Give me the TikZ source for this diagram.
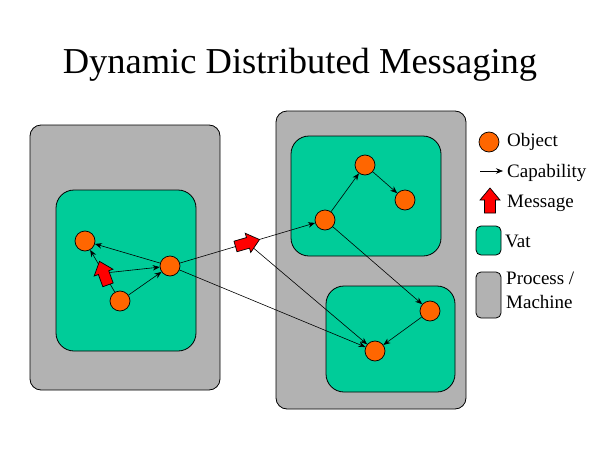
\documentclass[tikz,border=0pt]{standalone}
\usepackage{fontspec}
\setmainfont{Liberation Serif}
\usetikzlibrary{arrows.meta}
\definecolor{procgray}{RGB}{178,178,178}
\definecolor{vatgreen}{RGB}{0,204,153}
\definecolor{objorange}{RGB}{255,102,0}
\begin{document}
\begin{tikzpicture}[x=1pt,y=-1pt,
 proc/.style={draw=black, fill=procgray, line width=0.8pt, rounded corners=11pt, inner sep=0pt},
 vat/.style={draw=black, fill=vatgreen, line width=0.8pt, rounded corners=18pt, inner sep=0pt},
 legbox/.style={draw=black, line width=0.8pt, rounded corners=5pt, inner sep=0pt, minimum width=25pt},
 obj/.style={circle, draw=black, fill=objorange, line width=0.7pt, minimum size=20pt, inner sep=0pt},
 capline/.style={-{Stealth[length=7pt,width=5.5pt]}, line width=0.6pt},
 msg/.style={draw=black, fill=red, line width=0.7pt},
 lbl/.style={font=\fontsize{19}{22}\selectfont, anchor=base west, inner sep=0pt},
 msgarrow/.pic={\draw[msg] (-12.5,-5.5) -- (0.5,-5.5) -- (0.5,-10) -- (12.5,0) -- (0.5,10) -- (0.5,5.5) -- (-12.5,5.5) -- cycle;}
]
\useasboundingbox (0,0) rectangle (600,450);
\fill[white] (0,0) rectangle (600,450);

\node[anchor=base, font=\fontsize{36.5}{40}\selectfont, inner sep=0pt] (title) at (300,73) {Dynamic Distributed Messaging};

% processes
\node[proc, minimum width=190pt, minimum height=265pt] (p1) at (125,257.5) {};
\node[proc, minimum width=190pt, minimum height=298pt] (p2) at (371,260) {};
% vats
\node[vat, minimum width=140pt, minimum height=161pt] (v1) at (126,270.5) {};
\node[vat, minimum width=150pt, minimum height=120pt] (v2) at (366,196) {};
\node[vat, minimum width=129pt, minimum height=106pt] (v3) at (390.5,339) {};

% objects
\node[obj] (a1) at (85,241) {};
\node[obj] (a2) at (170,266) {};
\node[obj] (a3) at (120,301) {};
\node[obj] (b1) at (325,220) {};
\node[obj] (b2) at (365,165) {};
\node[obj] (b3) at (405,200) {};
\node[obj] (c1) at (430,311) {};
\node[obj] (c2) at (375,351) {};

% message positions
\path (a3) -- (a1) coordinate[pos=0.45] (m1);
\path (a2) -- (b1) coordinate[pos=0.5] (m2);

% capabilities
\draw[capline] (a2) -- (a1);
\draw[capline] (a3) -- (a2);
\draw[capline] (a3) -- (a1);
\draw[capline] (m1) -- (a2);
\draw[capline] (a2) -- (b1);
\draw[capline] (a2) -- (c2);
\draw[capline] (m2) -- (c2);
\draw[capline] (b1) -- (b2);
\draw[capline] (b2) -- (b3);
\draw[capline] (b1) -- (c1);
\draw[capline] (c1) -- (c2);

% messages
\path (m1) pic[rotate=110] {msgarrow};
\path (m2) pic[rotate=16] {msgarrow};

% legend
\node[obj] (lo) at (489,142) {};
\node[lbl] (l1) at (507,146) {Object};
\coordinate (lc1) at (480,171);
\coordinate (lc2) at (503,171);
\draw[capline] (lc1) -- (lc2);
\node[lbl] (l2) at (507,177) {Capability};
\coordinate (lm) at (490,200.5);
\path (lm) pic[rotate=90] {msgarrow};
\node[lbl] (l3) at (507,207) {Message};
\node[legbox, fill=vatgreen, minimum height=29pt] (lv) at (488.5,240.5) {};
\node[lbl] (l4) at (505,247) {Vat};
\node[legbox, fill=procgray, minimum height=46pt] (lp) at (488.5,295) {};
\node[lbl] (l5) at (506,284) {Process /};
\node[lbl] (l6) at (506,308) {Machine};
\end{tikzpicture}
\end{document}
